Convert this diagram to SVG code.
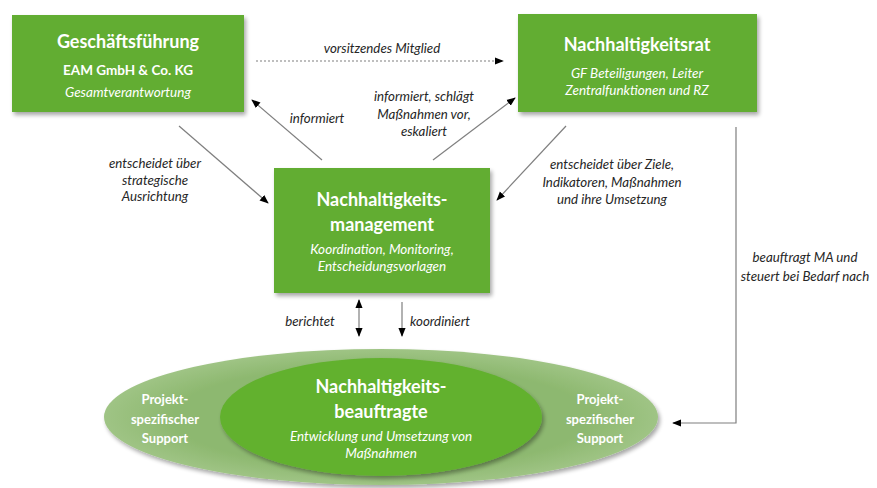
<svg xmlns="http://www.w3.org/2000/svg" width="877" height="488" viewBox="0 0 877 488">
<defs>
<filter id="sh" x="-10%" y="-10%" width="125%" height="130%">
<feGaussianBlur in="SourceAlpha" stdDeviation="2"/>
<feOffset dx="2" dy="3" result="b"/>
<feComponentTransfer><feFuncA type="linear" slope="0.35"/></feComponentTransfer>
<feMerge><feMergeNode/><feMergeNode in="SourceGraphic"/></feMerge>
</filter>
<radialGradient id="og" cx="0.5" cy="0.5" r="0.5">
<stop offset="0.75" stop-color="#8db86f"/>
<stop offset="1" stop-color="#9fc485"/>
</radialGradient>
<marker id="ah" viewBox="0 0 10 10" refX="9" refY="5" markerWidth="9" markerHeight="9" orient="auto-start-reverse" markerUnits="userSpaceOnUse">
<path d="M0,1 L10,5 L0,9 Z" fill="#000"/>
</marker>
<style>
.box{fill:#62ad30;}
.t{font-family:Lato,"Open Sans",sans-serif;fill:#fff;text-anchor:middle;}
.h{font-weight:bold;font-size:18px;}
.s{font-weight:bold;font-size:13.5px;}
.i{font-style:italic;font-size:13.5px;}
.l{font-family:Lato,"Open Sans",sans-serif;font-style:italic;font-size:13.3px;fill:#262626;text-anchor:middle;}
.c{fill:none;stroke:#7f7f7f;stroke-width:1.2;marker-end:url(#ah);}
</style>
</defs>
<rect width="877" height="488" fill="#fff"/>

<g id="connectors">
<path class="c" d="M256,61 L503,61" stroke-dasharray="2,2"/>
<path class="c" d="M322,160 L252,100"/>
<path class="c" d="M433,160 L515,98"/>
<path class="c" d="M179,126 L268,203"/>
<path class="c" d="M566,126 L497,200"/>
<path class="c" d="M736,127 L736,423 L673,423"/>
<path class="c" d="M359,336 L359,300" style="marker-start:url(#ah)"/>
<path class="c" d="M402,302 L402,336"/>
</g>

<g id="labels">
<text class="l" x="382" y="53">vorsitzendes Mitglied</text>
<text class="l" x="317" y="123">informiert</text>
<text class="l" x="424" y="101">informiert, schlägt</text>
<text class="l" x="424" y="119">Maßnahmen vor,</text>
<text class="l" x="424" y="136">eskaliert</text>
<text class="l" x="155" y="168">entscheidet über</text>
<text class="l" x="155" y="185">strategische</text>
<text class="l" x="155" y="201">Ausrichtung</text>
<text class="l" x="612" y="169">entscheidet über Ziele,</text>
<text class="l" x="612" y="187">Indikatoren, Maßnahmen</text>
<text class="l" x="612" y="204">und ihre Umsetzung</text>
<text class="l" x="805" y="262">beauftragt MA und</text>
<text class="l" x="805" y="281">steuert bei Bedarf nach</text>
<text class="l" x="310" y="326">berichtet</text>
<text class="l" x="440" y="326">koordiniert</text>
</g>

<g id="geschaeftsfuehrung">
<rect class="box" x="12" y="15" width="232" height="97" filter="url(#sh)"/>
<text class="t h" x="128" y="48">Geschäftsführung</text>
<text class="t s" x="128" y="75">EAM GmbH &amp; Co. KG</text>
<text class="t i" x="128" y="97">Gesamtverantwortung</text>
</g>

<g id="nachhaltigkeitsrat">
<rect class="box" x="518" y="14" width="239" height="98" filter="url(#sh)"/>
<text class="t h" x="637" y="51">Nachhaltigkeitsrat</text>
<text class="t i" x="637" y="78">GF Beteiligungen, Leiter</text>
<text class="t i" x="637" y="95">Zentralfunktionen und RZ</text>
</g>

<g id="management">
<rect class="box" x="274" y="168" width="216" height="125" filter="url(#sh)"/>
<text class="t h" x="382" y="206">Nachhaltigkeits-</text>
<text class="t h" x="382" y="231">management</text>
<text class="t i" x="382" y="254">Koordination, Monitoring,</text>
<text class="t i" x="382" y="271">Entscheidungsvorlagen</text>
</g>

<g id="support">
<ellipse cx="381" cy="417" rx="277" ry="68" fill="url(#og)" filter="url(#sh)"/>
<text class="t s" x="165" y="404" style="font-size:13px">Projekt-</text>
<text class="t s" x="165" y="424" style="font-size:13px">spezifischer</text>
<text class="t s" x="165" y="443" style="font-size:13px">Support</text>
<text class="t s" x="600" y="404" style="font-size:13px">Projekt-</text>
<text class="t s" x="600" y="424" style="font-size:13px">spezifischer</text>
<text class="t s" x="600" y="443" style="font-size:13px">Support</text>
</g>

<g id="beauftragte">
<ellipse cx="381" cy="417" rx="161" ry="59" fill="#62b12f" filter="url(#sh)"/>
<text class="t h" x="381" y="393">Nachhaltigkeits-</text>
<text class="t h" x="381" y="418">beauftragte</text>
<text class="t i" x="381" y="441">Entwicklung und Umsetzung von</text>
<text class="t i" x="381" y="458">Maßnahmen</text>
</g>
</svg>
